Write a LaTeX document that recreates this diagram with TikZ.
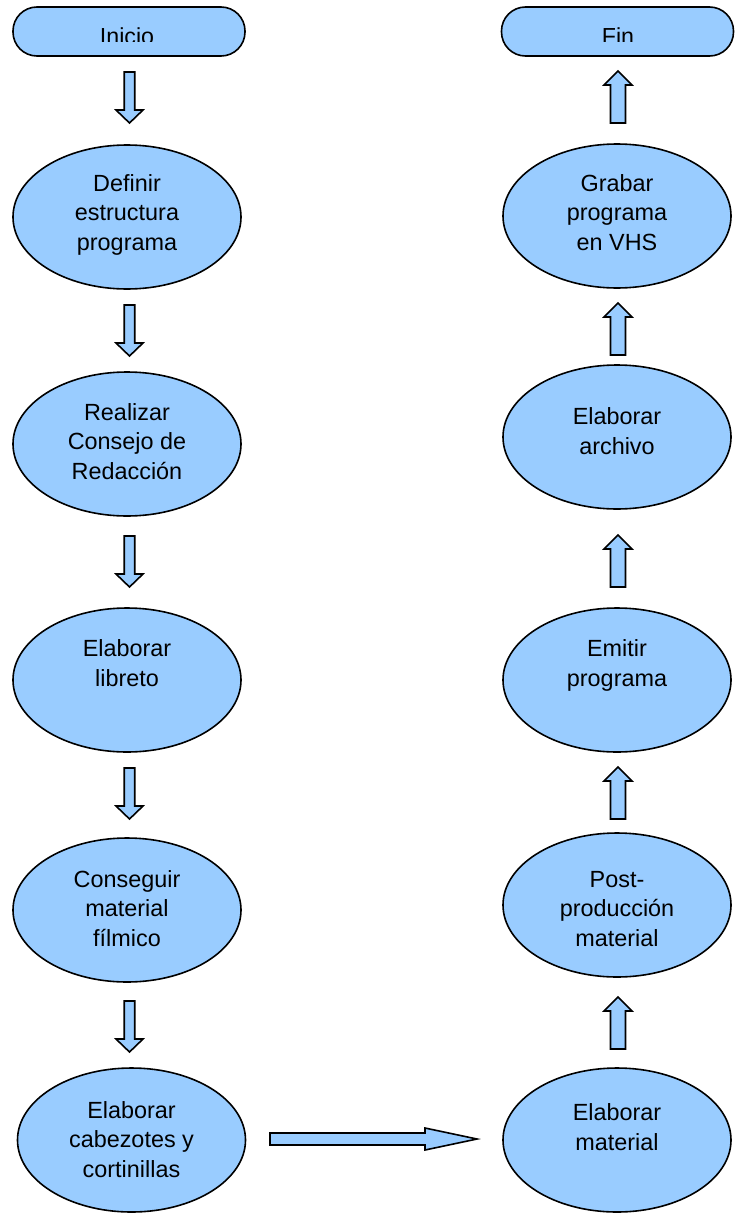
\documentclass[tikz,border=0pt]{standalone}
\usepackage{fontspec}
\setmainfont{Liberation Sans}
\usetikzlibrary{positioning,shapes.geometric}
\definecolor{celeste}{RGB}{153,204,255}
\tikzset{
  term/.style={draw,fill=celeste,line width=0.8pt,rounded corners=12pt,
    minimum width=116pt,minimum height=24.5pt,inner sep=0pt},
  proc/.style={draw,fill=celeste,line width=0.8pt,ellipse,
    minimum width=114pt,minimum height=72pt,inner sep=0pt},
  lbl/.style={align=center,inner sep=0pt,anchor=base,
    font=\fontsize{11.7pt}{14.7pt}\selectfont},
  tlbl/.style={inner sep=0pt,anchor=base,font=\fontsize{11.6pt}{14pt}\selectfont},
  blk/.style={draw,fill=celeste,line width=0.8pt,line join=miter},
  pics/bajar/.style={code={
    \filldraw[blk](-5.25,0)--(5.25,0)--(5.25,38)--(13.5,38)--(0,51)--(-13.5,38)--(-5.25,38)--cycle;}},
  pics/subir/.style={code={
    \filldraw[blk](-7.5,0)--(7.5,0)--(7.5,-38)--(14,-38)--(0,-52)--(-14,-38)--(-7.5,-38)--cycle;}}
}
\begin{document}
\begin{tikzpicture}[x=0.5pt,y=-0.5pt]
\useasboundingbox (0,0) rectangle (736,1215);

% inicio y fin (el texto sale cortado por abajo)
\node[term] (ini) at (129,31.5) {};
\node[term] (fin) at (617.5,31.5) {};
\begin{scope}
  \clip (0,0) rectangle (736,41.5);
  \node[tlbl] (iniT) at (127,44) {Inicio};
  \node[tlbl] (finT) at (618,44) {Fin};
\end{scope}

% columna izquierda
\node[proc] (def) at (127,217) {};
\node[lbl] (defT) at (127,250) {Definir\\estructura\\programa};
\node[proc] (con) at (127,444) {};
\node[lbl] (conT) at (127,479) {Realizar\\Consejo de\\Redacción};
\node[proc] (lib) at (127,680) {};
\node[lbl] (libT) at (127,686) {Elaborar\\libreto};
\node[proc] (fil) at (127,910) {};
\node[lbl] (filT) at (127,946) {Conseguir\\material\\fílmico};
\node[proc] (cab) at (131.5,1140) {};
\node[lbl] (cabT) at (131.5,1177) {Elaborar\\cabezotes y\\cortinillas};

% columna derecha
\node[proc] (vhs) at (617,216) {};
\node[lbl] (vhsT) at (617,250) {Grabar\\programa\\en VHS};
\node[proc] (arc) at (617,437) {};
\node[lbl] (arcT) at (617,454) {Elaborar\\archivo};
\node[proc] (emi) at (617,680) {};
\node[lbl] (emiT) at (617,686) {Emitir\\programa};
\node[proc] (pos) at (617,905) {};
\node[lbl] (posT) at (617,946) {Post-\\producción\\material};
\node[proc] (mat) at (617,1140) {};
\node[lbl] (matT) at (617,1150) {Elaborar\\material};

% flechas
\pic at (129.5,72) {bajar};
\pic at (129.5,305) {bajar};
\pic at (129.5,536) {bajar};
\pic at (129.5,768) {bajar};
\pic at (129.5,1001) {bajar};
\pic at (618,123) {subir};
\pic at (618,355) {subir};
\pic at (618,587) {subir};
\pic at (618,819) {subir};
\pic at (618,1049) {subir};
\filldraw[blk](270,1133)--(425,1133)--(425,1128)--(477,1139)--(425,1150)--(425,1145)--(270,1145)--cycle;
\end{tikzpicture}
\end{document}
